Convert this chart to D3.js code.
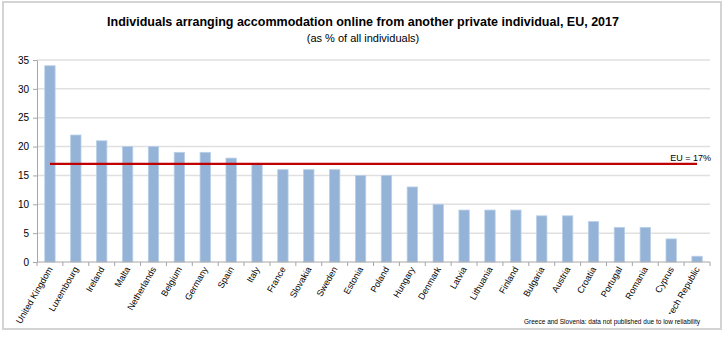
<!DOCTYPE html>
<html>
<head>
<meta charset="utf-8">
<script src="https://cdn.jsdelivr.net/npm/d3@7"></script>
<style>
  html, body { margin: 0; padding: 0; background: #fff; }
  svg { display: block; font-family: "Liberation Sans", Arial, sans-serif; }
</style>
</head>
<body>
<svg id="chart" width="728" height="338"></svg>
<script>
const countries = ["United Kingdom", "Luxembourg", "Ireland", "Malta", "Netherlands", "Belgium",
  "Germany", "Spain", "Italy", "France", "Slovakia", "Sweden", "Estonia", "Poland", "Hungary",
  "Denmark", "Latvia", "Lithuania", "Finland", "Bulgaria", "Austria", "Croatia", "Portugal",
  "Romania", "Cyprus", "Czech Republic"];
const shares = [34, 22, 21, 20, 20, 19, 19, 18, 17, 16, 16, 16, 15, 15, 13,
  10, 9, 9, 9, 8, 8, 7, 6, 6, 4, 1];
const euAverage = 17;
const yTicks = [0, 5, 10, 15, 20, 25, 30, 35];

const svg = d3.select("#chart");
const W = 728, H = 338;
const m = { left: 37, right: 18, top: 60, bottom: 76 };

// outer frame
svg.append("rect").attr("x", 3).attr("y", 2).attr("width", 718).attr("height", 327)
  .attr("fill", "none").attr("stroke", "#d4d4d4").attr("stroke-width", 2);

// titles
svg.append("text").attr("x", 363).attr("y", 26).attr("text-anchor", "middle")
  .attr("font-size", 12.5).attr("font-weight", "bold").attr("fill", "#000")
  .text("Individuals arranging accommodation online from another private individual, EU, 2017");
svg.append("text").attr("x", 363).attr("y", 42).attr("text-anchor", "middle")
  .attr("font-size", 11).attr("fill", "#000")
  .text("(as % of all individuals)");

const x = d3.scaleBand().domain(countries).range([m.left, W - m.right]).paddingInner(0.6).paddingOuter(0.3);
const y = d3.scaleLinear().domain([0, 35]).range([262, 60]);

// gridlines
svg.append("g").selectAll("line").data(yTicks.filter(d => d > 0)).join("line")
  .attr("x1", m.left).attr("x2", W - m.right)
  .attr("y1", d => y(d)).attr("y2", d => y(d))
  .attr("stroke", "#e0e0e0").attr("stroke-width", 1.5);

// y axis
const yAxis = svg.append("g").attr("transform", `translate(${m.left},0)`)
  .call(d3.axisLeft(y).tickValues(yTicks).tickSize(4).tickSizeOuter(0).tickPadding(4));
yAxis.select(".domain").attr("stroke", "#a6a6a6");
yAxis.selectAll(".tick line").attr("stroke", "#a6a6a6");
yAxis.selectAll(".tick text").attr("font-size", 10).attr("fill", "#000")
  .attr("font-family", "'Liberation Sans', Arial, sans-serif");

// bars
svg.append("g").selectAll("rect").data(countries).join("rect")
  .attr("x", d => x(d)).attr("width", x.bandwidth())
  .attr("y", (d, i) => y(shares[i])).attr("height", (d, i) => y(0) - y(shares[i]))
  .attr("fill", "#94b3d7").attr("stroke", "#b9cfe8").attr("stroke-width", 0.8);

// x axis with ticks between categories
const xAxisG = svg.append("g");
xAxisG.append("line").attr("x1", m.left).attr("x2", W - m.right)
  .attr("y1", y(0)).attr("y2", y(0)).attr("stroke", "#a6a6a6");
const bounds = d3.range(countries.length + 1).map(i => m.left + i * ((W - m.right - m.left) / countries.length));
xAxisG.selectAll(".tk").data(bounds).join("line")
  .attr("x1", d => d).attr("x2", d => d).attr("y1", y(0)).attr("y2", y(0) + 4)
  .attr("stroke", "#a6a6a6");
xAxisG.selectAll("text").data(countries).join("text")
  .attr("transform", d => `translate(${x(d) + x.bandwidth() / 2 + 3},${y(0) + 7}) rotate(-60)`)
  .attr("text-anchor", "end").attr("font-size", 9).attr("fill", "#000")
  .text(d => d);

// EU average line
const first = countries[0], last = countries[countries.length - 1];
svg.append("line")
  .attr("x1", x(first) + x.bandwidth() / 2).attr("x2", x(last) + x.bandwidth() / 2)
  .attr("y1", y(euAverage)).attr("y2", y(euAverage))
  .attr("stroke", "#c00000").attr("stroke-width", 2.2);
svg.append("text").attr("x", W - m.right + 1).attr("y", y(euAverage) - 3)
  .attr("text-anchor", "end").attr("font-size", 9).attr("fill", "#000")
  .text(`EU = ${euAverage}%`);

// footnote, on a white box that sits above the axis labels
svg.append("rect").attr("x", 520).attr("y", 314).attr("width", 186).attr("height", 12).attr("fill", "#fff");
svg.append("text").attr("x", 700).attr("y", 324).attr("text-anchor", "end")
  .attr("font-size", 6.5).attr("fill", "#000")
  .text("Greece and Slovenia: data not published due to low reliability");
</script>
</body>
</html>
